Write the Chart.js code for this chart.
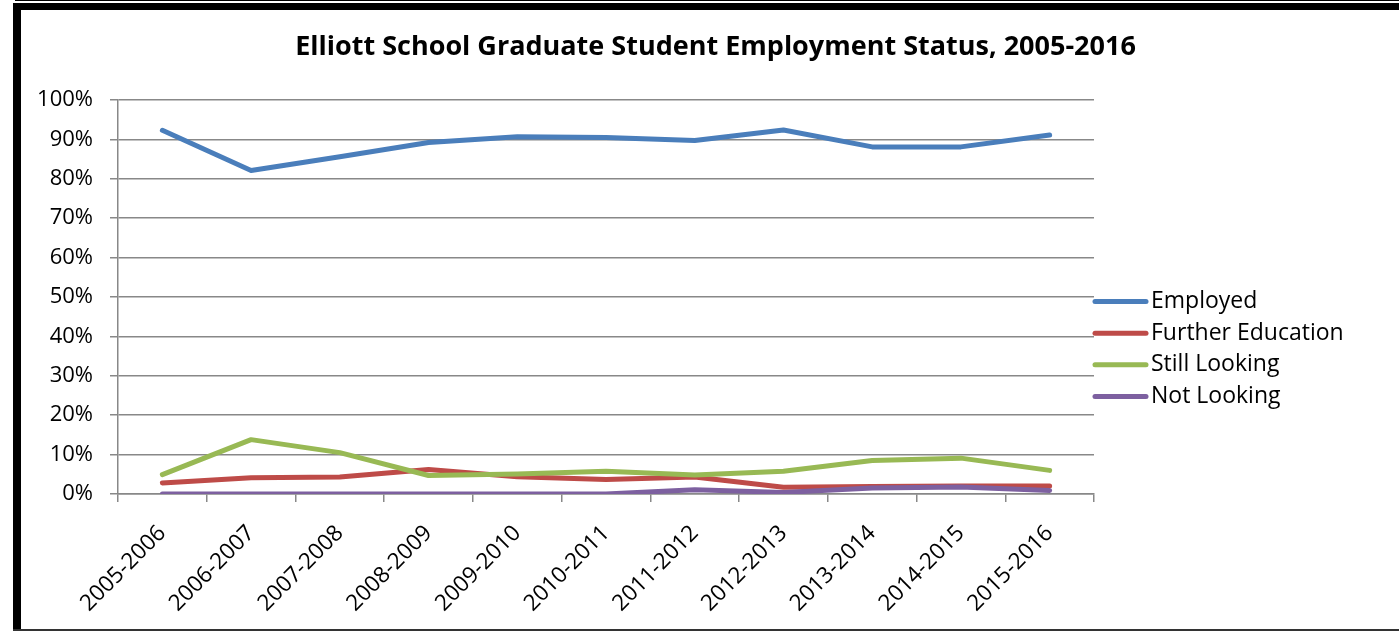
<!DOCTYPE html>
<html><head><meta charset="utf-8">
<script src="https://cdn.jsdelivr.net/npm/chart.js@4.4.1/dist/chart.umd.min.js"></script>
<style>
html,body{margin:0;padding:0;width:1399px;height:631px;overflow:hidden;background:#fff;}
#wrap{position:absolute;left:0;top:0;width:1431px;height:631px;}
.f{position:absolute;background:#000;}
</style></head><body>
<div id="wrap"><canvas id="c" width="1431" height="631"></canvas></div>
<div class="f" style="left:15px;top:0;width:1384px;height:1px"></div>
<div class="f" style="left:13px;top:3px;width:1386px;height:7px"></div>
<div class="f" style="left:13px;top:3px;width:8px;height:628px"></div>
<div class="f" style="left:13px;top:629px;width:1386px;height:2px;background:#333"></div>
<script>
const categories = ['2005-2006','2006-2007','2007-2008','2008-2009','2009-2010','2010-2011','2011-2012','2012-2013','2013-2014','2014-2015','2015-2016'];
const employed   = [92.3, 82.1, 85.6, 89.2, 90.7, 90.5, 89.7, 92.4, 88.1, 88.1, 91.1];
const furtherEd  = [2.8, 4.1, 4.3, 6.2, 4.4, 3.7, 4.3, 1.7, 1.9, 2.0, 2.0];
const stillLook  = [4.9, 13.8, 10.5, 4.7, 5.1, 5.8, 4.8, 5.8, 8.5, 9.1, 6.0];
const notLook    = [0, 0, 0, 0, 0, 0, 1.1, 0.4, 1.5, 1.8, 0.9];
const yTicks = [0,10,20,30,40,50,60,70,80,90,100];
const seriesNames = ['Employed','Further Education','Still Looking','Not Looking'];
const seriesColors = ['#4A7EBB','#BE4B48','#98B954','#7D60A0'];

const FONT = "'Open Sans', Lato, sans-serif";
const GRID = '#888888';

const legendPlugin = {
  id: 'customLegend',
  afterDraw(chart) {
    const ctx = chart.ctx;
    const area = chart.chartArea;
    const x0 = area.right - 1;
    const mid = (area.top + area.bottom) / 2 + 52;
    const gap = 31.7;
    ctx.save();
    chart.data.datasets.forEach((ds, i) => {
      const y = mid + (i - 1.5) * gap;
      ctx.strokeStyle = ds.borderColor;
      ctx.lineWidth = 5;
      ctx.lineCap = 'round';
      ctx.beginPath();
      ctx.moveTo(x0 + 2, y);
      ctx.lineTo(x0 + 53, y);
      ctx.stroke();
      ctx.fillStyle = '#000';
      ctx.font = '23px ' + FONT;
      ctx.textBaseline = 'middle';
      ctx.textAlign = 'left';
      ctx.fillText(ds.label, x0 + 58, y);
    });
    ctx.restore();
  }
};

const datasets = [employed, furtherEd, stillLook, notLook].map((d, i) => ({
  label: seriesNames[i],
  data: d,
  borderColor: seriesColors[i],
  backgroundColor: seriesColors[i],
  borderWidth: 5,
  pointRadius: 0,
  tension: 0,
  borderCapStyle: 'round',
  borderJoinStyle: 'round',
  fill: false,
  yAxisID: 'y',
  order: 3 - i
}));

new Chart(document.getElementById('c'), {
  type: 'line',
  data: { labels: categories, datasets },
  options: {
    responsive: false,
    animation: false,
    events: [],
    layout: { padding: { left: 0, right: 0, top: 0, bottom: 0 } },
    plugins: {
      legend: { display: false },
      tooltip: { enabled: false },
      title: {
        display: true,
        text: 'Elliott School Graduate Student Employment Status, 2005-2016',
        color: '#000',
        font: { family: FONT, size: 27, weight: 'bold', lineHeight: 1.2 },
        padding: { top: 31, bottom: 36.6 }
      }
    },
    scales: {
      x: {
        offset: true,
        grid: { display: true, drawOnChartArea: false, drawTicks: true, tickLength: 8, color: GRID, lineWidth: 1.5, offset: true },
        border: { display: true, color: GRID, width: 1.5 },
        ticks: { color: '#000', font: { family: FONT, size: 22.5 }, maxRotation: 45, minRotation: 45, autoSkip: false, padding: 18 },
        afterFit: s => { s.height = 137; }
      },
      y: {
        min: 0, max: 100,
        afterBuildTicks: s => { s.ticks = yTicks.map(v => ({ value: v })); },
        grid: { color: GRID, lineWidth: 1.5, tickLength: 8, drawTicks: true },
        border: { display: true, color: GRID, width: 1.5 },
        ticks: { color: '#000', font: { family: FONT, size: 22 }, padding: 17, callback: v => v + '%' },
        afterFit: s => { s.width = 118; }
      },
      yRight: {
        position: 'right',
        min: 0, max: 100,
        grid: { display: false, drawOnChartArea: false, drawTicks: false },
        border: { display: false },
        ticks: { display: false },
        afterFit: s => { s.width = 337; }
      }
    }
  },
  plugins: [legendPlugin]
});
</script>
</body></html>
